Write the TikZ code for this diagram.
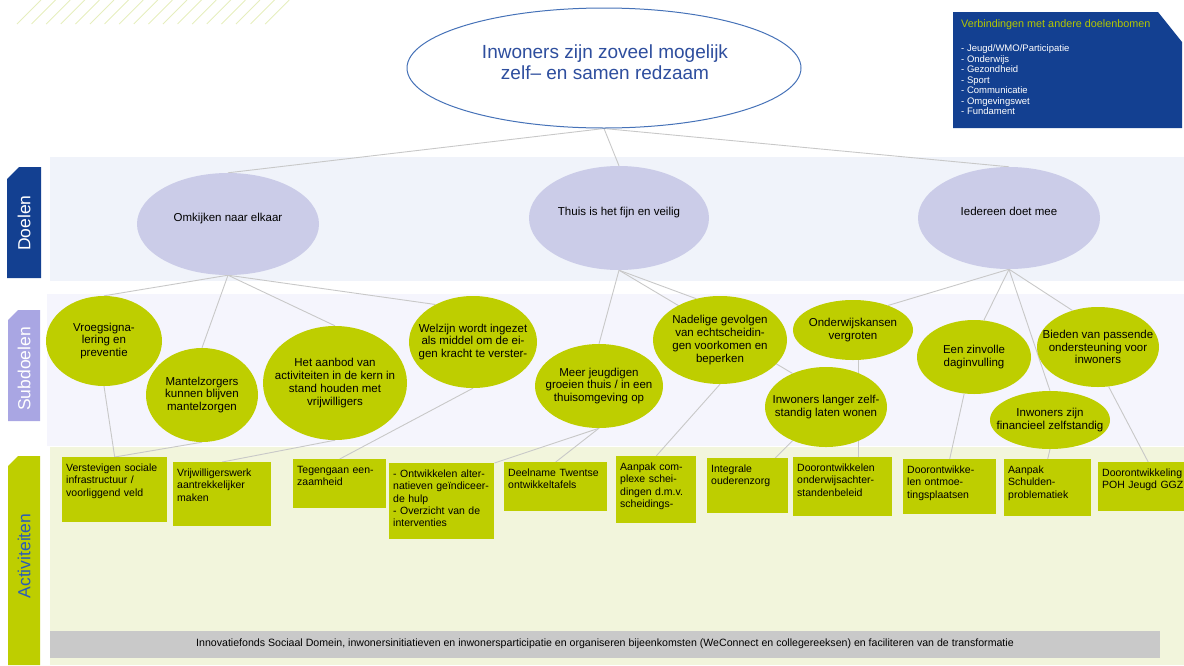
\documentclass[tikz,border=0pt]{standalone}
\usepackage{fontspec}
\setmainfont{Liberation Sans}
\usetikzlibrary{shapes.geometric}

\definecolor{donkerblauw}{RGB}{19,64,145}
\definecolor{titelblauw}{RGB}{46,78,158}
\definecolor{randblauw}{RGB}{70,114,184}
\definecolor{lila}{RGB}{203,204,232}
\definecolor{lilatab}{RGB}{169,166,227}
\definecolor{geelgroen}{RGB}{190,206,0}
\definecolor{kopgroen}{RGB}{180,200,0}
\definecolor{bandblauw}{RGB}{240,243,250}
\definecolor{bandlila}{RGB}{245,245,253}
\definecolor{bandgroen}{RGB}{242,245,220}
\definecolor{lijngrijs}{RGB}{200,200,200}
\definecolor{balkgrijs}{RGB}{201,201,201}
\definecolor{arceergroen}{RGB}{230,238,190}
\definecolor{tabtekst}{RGB}{43,92,184}

\pgfdeclarelayer{achter}
\pgfdeclarelayer{lijnen}
\pgfsetlayers{achter,lijnen,main}

\begin{document}
\begin{tikzpicture}[x=1pt, y=-1pt]
        \tikzset{
            % Define style for the main goal
            hoofddoel/.style={
                    ellipse,
                    draw=randblauw, line width=1pt,
                    fill=white},
            % Define style for goals
            doel/.style={
                    ellipse,
                    fill=lila,
                    inner sep=-15pt,
                    text depth=13.5pt,
                    font=\fontsize{11.5}{13}\selectfont},
            % Define style for subgoals
            subdoel/.style={
                    ellipse,
                    fill=geelgroen,
                    inner sep=-15pt,
                    align=center,
                    font=\fontsize{11.5}{12.7}\selectfont},
            % Define style for activities
            actie/.style={
                    rectangle,
                    fill=geelgroen,
                    anchor=north west,
                    inner xsep=4pt, inner ysep=6pt,
                    text height=8.5pt,
                    align=left,
                    font=\fontsize{10.5}{12.2}\selectfont},
            % Define style for the side tabs
            tab/.style={
                    rotate=90,
                    font=\fontsize{17.5}{19}\selectfont},
            % Define connector style
            lijn/.style={
                    draw=lijngrijs,
                    line width=0.9pt},
        }
        \useasboundingbox (0,0) rectangle (1184,665);
        \clip (0,0) rectangle (1184,665);

        % Bands behind the tree
        \begin{pgfonlayer}{achter}
            \fill[bandblauw] (50,157) rectangle (1184,281);
            \fill[bandlila] (47,294) rectangle (1184,446);
            \fill[bandgroen] (50,447) rectangle (1184,665);
        \end{pgfonlayer}

        % Hatching top left
        \foreach \i in {0,...,17}
            \draw[arceergroen, line width=0.9pt] ({17+14.6*\i},24) -- ++(24,-24);

        % Side tabs
        \fill[donkerblauw] (7,278) -- (7,179) -- (19,167) -- (41,167) -- (41,278) -- cycle;
        \node[tab, text=white] (tabdoel) at (24,223) {Doelen};
        \fill[lilatab] (8,421) -- (8,320) -- (18,310) -- (40,310) -- (40,421) -- cycle;
        \node[tab, text=white] (tabsub) at (24,369) {Subdoelen};
        \fill[geelgroen] (8,665) -- (8,466) -- (18,456) -- (40,456) -- (40,665) -- cycle;
        \node[tab, text=tabtekst] (tabactie) at (24,556) {Activiteiten};

        % Links to other trees
        \fill[donkerblauw] (953,12) -- (1158,12) -- (1182,42) -- (1182,128) -- (953,128) -- cycle;
        \node[anchor=west, inner sep=0pt, text=kopgroen, font=\fontsize{10.8}{12}\selectfont]
            (verbkop) at (961,25) {Verbindingen met andere doelenbomen};
        \node[anchor=north west, inner sep=0pt, align=left, text=white, font=\fontsize{9.5}{10.5}\selectfont]
            (verblijst) at (961,44.5) {- Jeugd/WMO/Participatie\\- Onderwijs\\- Gezondheid\\- Sport\\- Communicatie\\- Omgevingswet\\- Fundament};

        % Main goal and goals
        \node[hoofddoel, minimum width=394pt, minimum height=120pt] (top) at (604,68) {};
        \node[align=center, text=titelblauw, font=\fontsize{19}{21}\selectfont]
            (titel) at (605,62.5) {Inwoners zijn zoveel mogelijk\\zelf– en samen redzaam};
        \node[doel, minimum width=182pt, minimum height=102pt] (omk) at (228,224) {Omkijken naar elkaar};
        \node[doel, minimum width=180pt, minimum height=104pt] (thuis) at (619,218) {Thuis is het fijn en veilig};
        \node[doel, minimum width=182pt, minimum height=102pt] (ied) at (1009,218) {Iedereen doet mee};

        % Subgoals
        \node[subdoel, minimum width=116pt, minimum height=90pt] (vroeg) at (104,341) {Vroegsigna-\\lering en\\preventie};
        \node[subdoel, minimum width=112pt, minimum height=94pt] (mantel) at (202,395) {Mantelzorgers\\kunnen blijven\\mantelzorgen};
        \node[subdoel, minimum width=144pt, minimum height=114pt] (aanbod) at (335,383) {Het aanbod van\\activiteiten in de kern in\\stand houden met\\vrijwilligers};
        \node[subdoel, minimum width=128pt, minimum height=92pt] (welz) at (473,342) {Welzijn wordt ingezet\\als middel om de ei-\\gen kracht te verster-};
        \node[subdoel, minimum width=128pt, minimum height=84pt] (meer) at (599,386) {Meer jeugdigen\\groeien thuis / in een\\thuisomgeving op};
        \node[subdoel, minimum width=134pt, minimum height=88pt] (nadel) at (720,340) {Nadelige gevolgen\\van echtscheidin-\\gen voorkomen en\\beperken};
        \node[subdoel, minimum width=120pt, minimum height=60pt] (onderw) at (853,330) {Onderwijskansen\\vergroten};
        \node[subdoel, minimum width=122pt, minimum height=80pt] (langer) at (826,407) {Inwoners langer zelf-\\standig laten wonen};
        \node[subdoel, minimum width=114pt, minimum height=74pt] (zinvol) at (974,357) {Een zinvolle\\daginvulling};
        \node[subdoel, minimum width=122pt, minimum height=80pt] (bieden) at (1098,347) {Bieden van passende\\ondersteuning voor\\inwoners};
        \node[subdoel, minimum width=120pt, minimum height=58pt] (fin) at (1050,420) {Inwoners zijn\\financieel zelfstandig};

        % Activities
        \node[actie, text width=97pt, text depth=44.5pt] (verst) at (62,457) {Verstevigen sociale\\infrastructuur /\\voorliggend veld};
        \node[actie, text width=90pt, text depth=43.5pt] (vrijw) at (173,462) {Vrijwilligerswerk\\aantrekkelijker\\maken};
        \node[actie, text width=85pt, text depth=28.5pt] (teg) at (293,459) {Tegengaan een-\\zaamheid};
        \node[actie, text width=97pt, text depth=55.5pt] (ontw) at (389,463) {- Ontwikkelen alter-\\natieven geïndiceer-\\de hulp\\- Overzicht van de\\interventies};
        \node[actie, text width=95pt, text depth=28.5pt] (deel) at (504,462) {Deelname Twentse\\ontwikkeltafels};
        \node[actie, text width=72pt, text depth=46.5pt] (aanpak) at (616,456) {Aanpak com-\\plexe schei-\\dingen d.m.v.\\scheidings-};
        \node[actie, text width=73pt, text depth=34.5pt] (integ) at (707,458) {Integrale\\ouderenzorg};
        \node[actie, text width=91pt, text depth=38.5pt] (doorO) at (793,457) {Doorontwikkelen\\onderwijsachter-\\standenbeleid};
        \node[actie, text width=85pt, text depth=34.5pt] (ontmoe) at (903,459) {Doorontwikke-\\len ontmoe-\\tingsplaatsen};
        \node[actie, text width=79pt, text depth=36.5pt] (schuld) at (1004,459) {Aanpak\\Schulden-\\problematiek};
        \node[actie, text width=92pt, text depth=28.5pt] (poh) at (1098,462) {Doorontwikkeling\\POH Jeugd GGZ};

        % Bar at the bottom
        \node[fill=balkgrijs, minimum width=1110pt, minimum height=27pt, font=\fontsize{10.6}{12}\selectfont]
            (balk) at (605,644) {Innovatiefonds Sociaal Domein, inwonersinitiatieven en inwonersparticipatie en organiseren bijeenkomsten (WeConnect en collegereeksen) en faciliteren van de transformatie};

        % Connect the tree
        \begin{pgfonlayer}{lijnen}
            \draw[lijn] (top.south) -- (omk.north);
            \draw[lijn] (top.south) -- (thuis.north);
            \draw[lijn] (top.south) -- (ied.north);
            \draw[lijn] (omk.south) -- (vroeg.north);
            \draw[lijn] (omk.south) -- (mantel.north);
            \draw[lijn] (omk.south) -- (aanbod.north);
            \draw[lijn] (omk.south) -- (welz.135);
            \draw[lijn] (thuis.south) -- (meer.north);
            \draw[lijn] (thuis.south) -- (nadel.120);
            \draw[lijn] (thuis.south) -- (langer.135);
            \draw[lijn] (ied.south) -- (onderw.35);
            \draw[lijn] (ied.south) -- (zinvol.75);
            \draw[lijn] (ied.south) -- (fin.north);
            \draw[lijn] (ied.south) -- (bieden.125);
            % subgoals to activities
            \draw[lijn] (vroeg.south) -- (verst.north);
            \draw[lijn] (mantel.south) -- (verst.north);
            \draw[lijn] (aanbod.south) -- (vrijw.north);
            \draw[lijn] (welz.south) -- (teg.north);
            \draw[lijn] (meer.south) -- (ontw.north east);
            \draw[lijn] (meer.south) -- (deel.north);
            \draw[lijn] (nadel.south) -- (aanpak.north);
            \draw[lijn] (langer) -- (integ);
            \draw[lijn] (onderw.-80) -- (onderw.-80 |- doorO.north);
            \draw[lijn] (zinvol.-105) -- (ontmoe.north);
            \draw[lijn] (fin.south) -- (schuld.north);
            \draw[lijn] (bieden.-75) -- (poh.north);
        \end{pgfonlayer}

    \end{tikzpicture}
\end{document}
